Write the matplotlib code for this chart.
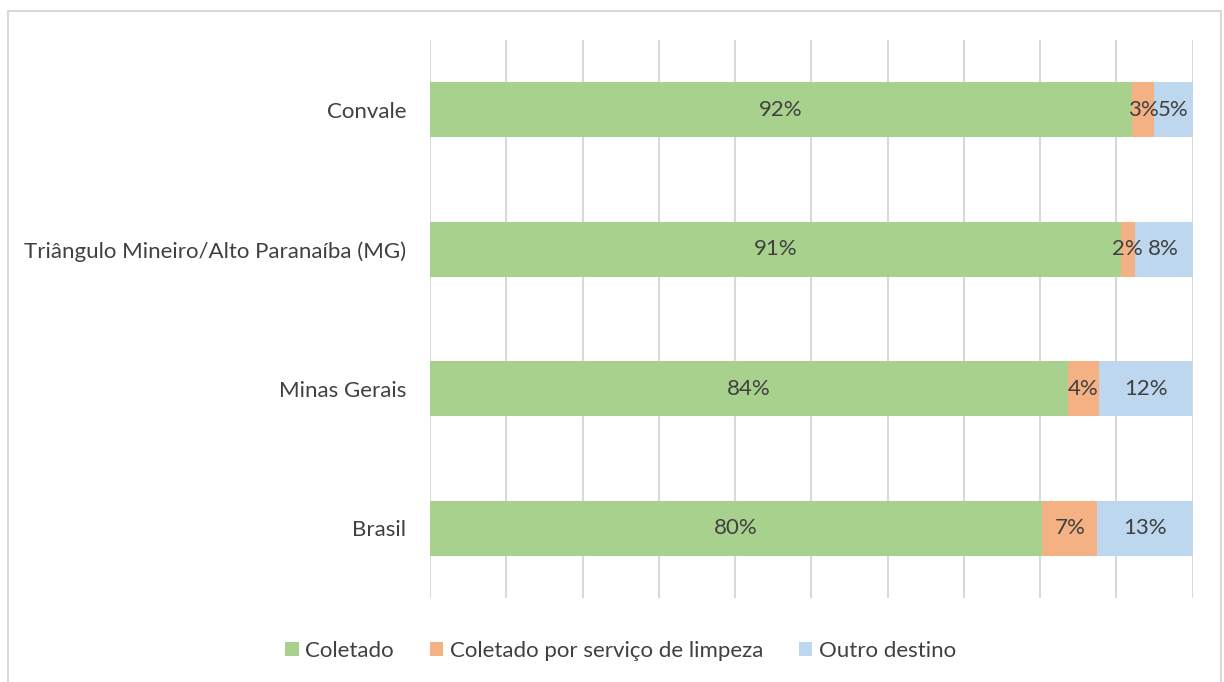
import matplotlib

matplotlib.use("Agg")
import matplotlib.pyplot as plt
import numpy as np
from matplotlib.patches import Rectangle

# ---------------------------------------------------------------- data
regions = ["Convale", "Triângulo Mineiro/Alto Paranaíba (MG)", "Minas Gerais", "Brasil"]
series_names = ["Coletado", "Coletado por serviço de limpeza", "Outro destino"]
coletado = [92.0, 90.6, 83.7, 80.3]
coletado_limpeza = [3.0, 1.8, 4.0, 7.2]
outro_destino = [5.0, 7.6, 12.3, 12.6]

COLORS = ["#A9D18E", "#F4B183", "#BDD7EE"]
TEXT = "#404040"
GRID = "#D9D9D9"
FS = 16

plt.rcParams["font.family"] = ["Lato", "DejaVu Sans"]

fig = plt.figure(figsize=(12.24, 6.82), dpi=100)
ax = fig.add_axes([430 / 1224, 1 - 598 / 682, 762.5 / 1224, 558 / 682])

y = np.arange(len(regions))
left = np.zeros(len(regions))
for name, vals, col in zip(series_names, (coletado, coletado_limpeza, outro_destino), COLORS):
    vals = np.array(vals)
    bars = ax.barh(y, vals, left=left, height=0.394, color=col, label=name, zorder=2)
    for b, v in zip(bars, vals):
        ax.text(b.get_x() + b.get_width() / 2, b.get_y() + b.get_height() / 2,
                f"{v:.0f}%", ha="center", va="center", fontsize=FS, color=TEXT, zorder=3)
    left += vals

ax.set_xlim(0, 100)
ax.set_ylim(len(regions) - 0.5, -0.5)
ax.set_xticks(np.arange(0, 101, 10))
ax.set_xticklabels([])
ax.tick_params(axis="x", length=0)
ax.set_yticks(y)
ax.set_yticklabels(regions, fontsize=FS, color=TEXT)
ax.tick_params(axis="y", length=0, pad=17)
ax.grid(axis="x", color=GRID, lw=1.5, zorder=0)
for s in ax.spines.values():
    s.set_visible(False)

# chart frame
fig.patches.append(Rectangle((8 / 1224, -0.05), 1213 / 1224, 1.05 - 11 / 682,
                             transform=fig.transFigure, fill=False,
                             edgecolor=GRID, lw=1.5))

fig.legend(loc="center", bbox_to_anchor=(0.507, 1 - 651 / 682), ncol=3,
           frameon=False, fontsize=FS, labelcolor=TEXT, handlelength=0.6,
           handleheight=0.6, handletextpad=0.3, columnspacing=1.6)

fig.savefig("out.png", dpi=100)
